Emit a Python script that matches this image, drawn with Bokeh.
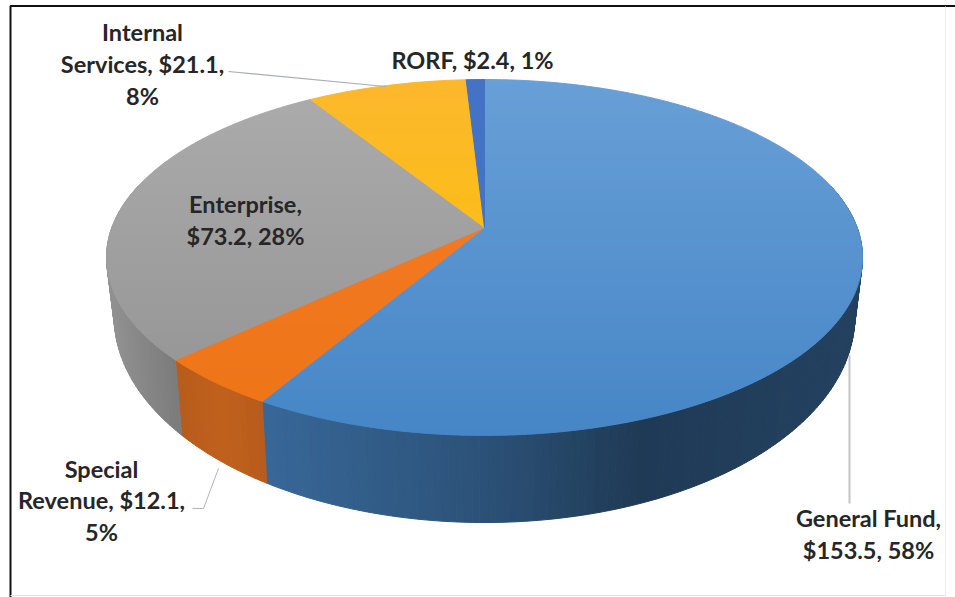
import numpy as np
from bokeh.core.properties import value
from bokeh.embed import file_html
from bokeh.models import ColumnDataSource, Range1d
from bokeh.plotting import figure
from bokeh.resources import INLINE

# Budget by fund, in clockwise order from twelve o'clock
funds = ["General Fund", "Special Revenue", "Enterprise", "Internal Services", "RORF"]
amounts = [153.5, 12.1, 73.2, 21.1, 2.4]
percents = [58, 5, 28, 8, 1]

# Face colours: far edge of the disc, near edge of the disc, and rim base
far_colors = ["#689fd7", "#f67c2a", "#acacac", "#fcb82c", "#4472c4"]
near_colors = ["#4686c6", "#ee7416", "#929292", "#fcc200", "#4472c4"]
rim_colors = ["#4a8acb", "#f47a25", "#a5a5a5", "#fcbd24", "#4472c4"]

# Perspective disc geometry, in canvas pixels
CX, APEX_Y = 484.0, 227.0
RX, RY, PERSP = 372.6, 172.9, 0.1685
RIM_RX, RIM_RY, RIM_Y = 365.0, 200.0, 281.5
BAND = 5.0
TOP_Y, BOTTOM_Y = 79.0, 435.0

# Rim shading as a function of horizontal position
SHADE_X = [112, 173, 220, 260, 484, 640, 850]
SHADE_M = [0.87, 0.75, 0.79, 0.75, 0.59, 0.42, 0.47]


def disc_xy(theta, rx=RX, ry=RY, cy=APEX_Y):
    """Project clockwise angle theta (radians from the back of the disc)."""
    d = 1 + PERSP * np.cos(theta)
    return CX + rx * np.sin(theta) / d, cy - ry * np.cos(theta) / d


def rgb(hex_color):
    return np.array([int(hex_color[i:i + 2], 16) for i in (1, 3, 5)], dtype=float)


def to_hex(c):
    c = np.clip(np.round(c), 0, 255).astype(int)
    return "#%02x%02x%02x" % tuple(c)


def clip_half(points, limit, keep_below):
    """One Sutherland-Hodgman pass against a horizontal line."""
    out = []
    n = len(points)
    inside = (lambda p: p[1] <= limit) if keep_below else (lambda p: p[1] >= limit)
    for i in range(n):
        a, b = points[i], points[(i + 1) % n]
        ia, ib = inside(a), inside(b)
        if ia:
            out.append(a)
        if ia != ib:
            t = (limit - a[1]) / (b[1] - a[1])
            out.append((a[0] + t * (b[0] - a[0]), limit))
    return out


shares = np.array(amounts) / sum(amounts) * 2 * np.pi
edges = np.concatenate([[0.0], np.cumsum(shares)])

p = figure(width=955, height=597, output_backend="svg", toolbar_location=None,
           x_range=Range1d(0, 955), y_range=Range1d(597, 0),
           min_border=0, outline_line_color=None, background_fill_color="white")
p.axis.visible = False
p.grid.visible = False

# Rim: thin shaded quads around the front of the disc
rim_xs, rim_ys, rim_fill = [], [], []
for start, stop, base in zip(edges[:-1], edges[1:], rim_colors):
    lo, hi = max(start, np.pi * 0.42), min(stop, np.pi * 1.58)
    if hi <= lo:
        continue
    ticks = np.arange(lo, hi, np.radians(1.0))
    ticks = np.append(ticks, hi)
    for a, b in zip(ticks[:-1], ticks[1:]):
        xa, ya = disc_xy(a)
        xb, yb = disc_xy(b)
        xc, yc = disc_xy(b, RIM_RX, RIM_RY, RIM_Y)
        xd, yd = disc_xy(a, RIM_RX, RIM_RY, RIM_Y)
        rim_xs.append([xa, xb, xc, xd])
        rim_ys.append([ya, yb, yc, yd])
        m = np.interp((xa + xb) / 2, SHADE_X, SHADE_M)
        rim_fill.append(to_hex(rgb(base) * m))
p.patches("xs", "ys", source=ColumnDataSource(dict(xs=rim_xs, ys=rim_ys, c=rim_fill)),
          fill_color="c", line_color="c", line_width=1)

# Top face: each slice cut into horizontal bands for a vertical gradient
top_xs, top_ys, top_fill = [], [], []
for start, stop, far, near in zip(edges[:-1], edges[1:], far_colors, near_colors):
    ts = np.linspace(start, stop, max(int(np.degrees(stop - start) * 2), 4))
    xs, ys = disc_xy(ts)
    outline = [(CX, APEX_Y)] + list(zip(xs, ys))
    y0 = TOP_Y - BAND
    while y0 < BOTTOM_Y + BAND:
        y1 = y0 + BAND
        piece = clip_half(outline, y0, False)
        if piece:
            piece = clip_half(piece, y1, True)
        if len(piece) >= 3:
            f = np.clip(((y0 + y1) / 2 - TOP_Y) / (BOTTOM_Y - TOP_Y), 0, 1)
            top_xs.append([q[0] for q in piece])
            top_ys.append([q[1] for q in piece])
            top_fill.append(to_hex(rgb(far) * (1 - f) + rgb(near) * f))
        y0 = y1
p.patches("xs", "ys", source=ColumnDataSource(dict(xs=top_xs, ys=top_ys, c=top_fill)),
          fill_color="c", line_color="c", line_width=1)

# Leader lines from labels to slices
p.line([228, 385], [71, 86], line_color="#a8adb5", line_width=1.2)
p.line([192, 203, 218], [508, 508, 468], line_color="#b5b5b5", line_width=1)
p.line([849, 849], [355, 503], line_color="#c4c4c4", line_width=2)

# Data labels, built from the fund names, amounts and percentages
texts = {name: f"{name}, ${amt:.1f}, {pct}%" for name, amt, pct in zip(funds, amounts, percents)}
label_lines = [
    ("General Fund,", 868, 517.5), (f"${amounts[0]:.1f}, {percents[0]}%", 868, 549),
    ("Special", 101, 468), (f"Revenue, ${amounts[1]:.1f},", 101, 499.5), (f"{percents[1]}%", 101, 531),
    ("Enterprise,", 245, 203), (f"${amounts[2]:.1f}, {percents[2]}%", 245, 235),
    ("Internal", 142, 31), (f"Services, ${amounts[3]:.1f},", 142, 63), (f"{percents[3]}%", 142, 95),
    (texts["RORF"], 472, 59),
]
p.text([q[1] for q in label_lines], [q[2] for q in label_lines], text=[q[0] for q in label_lines],
       text_font=value("Lato"), text_font_style="bold", text_font_size="23.5px",
       text_color="#262626", text_align="center", text_baseline="middle")

# Chart frame: heavy top and left, faint right and bottom
p.line([10, 10, 955], [597, 5.5, 5.5], line_color="#111111", line_width=2)
p.line([945, 945], [6, 595], line_color="#eeeeee", line_width=1)
p.line([10, 945], [595, 595], line_color="#e2e2e2", line_width=1)

open("out.html", "w").write(file_html(p, INLINE))
